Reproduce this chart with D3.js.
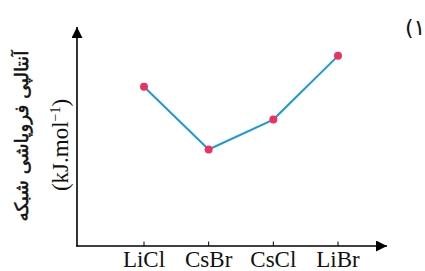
<!DOCTYPE html>
<html>
<head>
<meta charset="utf-8">
<script src="https://cdn.jsdelivr.net/npm/d3@7"></script>
<style>
  body { margin: 0; background: #fff; }
  svg { display: block; }
</style>
</head>
<body>
<svg id="chart" width="425" height="271"></svg>
<script>
// chart values (arbitrary units)
var salts = ["LiCl", "CsBr", "CsCl", "LiBr"];
var enthalpy = [160, 97, 127, 191];

var svg = d3.select("#chart");

// axis frame
var x0 = 77, y0 = 246, xEnd = 387, yTop = 27;

var x = d3.scalePoint()
  .domain(salts)
  .range([144, 338]);

var y = d3.scaleLinear()
  .domain([0, 220])
  .range([y0, yTop]);

// arrow marker
svg.append("defs").append("marker")
  .attr("id", "arrow")
  .attr("viewBox", "0 0 10 10")
  .attr("refX", 10).attr("refY", 5)
  .attr("markerWidth", 11).attr("markerHeight", 11)
  .attr("markerUnits", "userSpaceOnUse")
  .attr("orient", "auto")
  .append("path")
  .attr("d", "M0,0 L10,5 L0,10 Z")
  .attr("fill", "#000");

// y axis line
svg.append("line")
  .attr("x1", x0).attr("y1", y0 + 0.5)
  .attr("x2", x0).attr("y2", yTop)
  .attr("stroke", "#000").attr("stroke-width", 1.6)
  .attr("marker-end", "url(#arrow)");

// x axis line
svg.append("line")
  .attr("x1", x0 - 0.8).attr("y1", y0)
  .attr("x2", xEnd).attr("y2", y0)
  .attr("stroke", "#000").attr("stroke-width", 1.6)
  .attr("marker-end", "url(#arrow)");

// ticks + labels
var ticks = svg.append("g").selectAll("g")
  .data(salts)
  .enter()
  .append("g")
  .attr("transform", function(d) { return "translate(" + x(d) + "," + y0 + ")"; });

ticks.append("line")
  .attr("y1", -4.5).attr("y2", 0)
  .attr("stroke", "#000").attr("stroke-width", 1);

ticks.append("text")
  .attr("y", 21)
  .attr("text-anchor", "middle")
  .attr("font-family", "Liberation Serif, Times New Roman, serif")
  .attr("font-size", 23)
  .attr("fill", "#111")
  .text(function(d) { return d; });

// the line
var line = d3.line()
  .x(function(d, i) { return x(salts[i]); })
  .y(function(d) { return y(d); });

svg.append("path")
  .datum(enthalpy)
  .attr("d", line)
  .attr("fill", "none")
  .attr("stroke", "#1b9ad8")
  .attr("stroke-width", 2);

svg.append("g").selectAll("circle")
  .data(enthalpy)
  .enter()
  .append("circle")
  .attr("cx", function(d, i) { return x(salts[i]); })
  .attr("cy", function(d) { return y(d); })
  .attr("r", 4)
  .attr("fill", "#ec3360");

// y label, two lines
svg.append("text")
  .attr("transform", "translate(28,136) rotate(-90)")
  .attr("text-anchor", "middle")
  .attr("font-family", "DejaVu Sans, sans-serif")
  .attr("font-size", 18.5)
  .attr("stroke", "#111")
  .attr("stroke-width", 0.5)
  .attr("direction", "rtl")
  .attr("fill", "#111")
  .text("آنتالپی فروپاشی شبکه");

var unit = svg.append("text")
  .attr("transform", "translate(68,145) rotate(-90)")
  .attr("text-anchor", "middle")
  .attr("font-family", "Liberation Serif, Times New Roman, serif")
  .attr("font-size", 23)
  .attr("fill", "#111");
unit.append("tspan").text("(kJ.mol");
unit.append("tspan").attr("font-size", 14).attr("dy", -8).text("−1");
unit.append("tspan").attr("dy", 8).text(")");

// question number
svg.append("text")
  .attr("x", 405).attr("y", 35)
  .attr("font-family", "DejaVu Sans, sans-serif")
  .attr("font-size", 22)
  .attr("fill", "#111")
  .text("(۱");
</script>
</body>
</html>
